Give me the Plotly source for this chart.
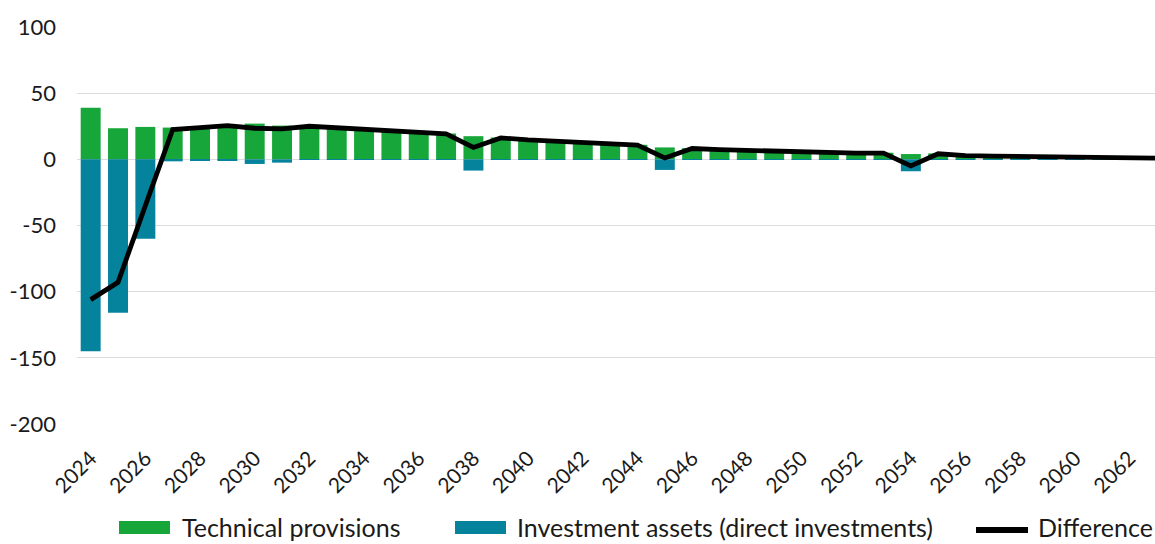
import plotly.graph_objects as go

years = list(range(2024, 2064))

technical_provisions = [
    39.0, 23.5, 24.5, 24.0, 24.5, 25.5, 27.0, 25.5, 25.0, 24.0,
    23.0, 22.0, 20.5, 19.5, 17.5, 16.5, 15.0, 14.0, 13.0, 12.0,
    11.0, 9.0, 8.5, 7.5, 7.0, 6.5, 6.0, 5.5, 5.0, 5.0,
    4.0, 4.5, 3.0, 2.6, 2.3, 2.0, 1.8, 1.5, 1.3, 1.0,
]

investment_assets = [
    -145.0, -116.0, -60.0, -1.5, -1.2, -1.0, -3.5, -2.5, -0.5, -0.2,
    -0.2, -0.2, -0.2, -0.2, -8.5, -0.3, -0.4, -0.4, -0.3, -0.3,
    -0.3, -8.0, -0.3, -0.2, -0.2, -0.2, -0.2, -0.2, -0.2, -0.3,
    -9.0, -0.3, -0.2, -0.2, -0.1, -0.1, -0.1, -0.1, -0.1, -0.1,
]

difference = [
    -106.0, -93.0, -35.0, 22.5, 24.0, 25.5, 23.5, 23.0, 25.0, 23.8,
    22.8, 21.8, 20.3, 19.3, 9.0, 16.2, 14.7, 13.7, 12.7, 11.7,
    10.7, 1.0, 8.2, 7.3, 6.7, 6.2, 5.7, 5.2, 4.7, 4.7,
    -5.0, 4.2, 2.8, 2.4, 2.2, 1.9, 1.7, 1.4, 1.2, 0.9,
]

y_tick_values = [100, 50, 0, -50, -100, -150, -200]
y_tick_labels = ["100", "50", "0", "-50", "-100", "-150", "-200"]
x_tick_values = list(range(2024, 2063, 2))

series_names = ["Technical provisions", "Investment assets (direct investments)", "Difference"]

GREEN = "#17a63a"
BLUE = "#05839c"
FONT = "Lato"

W, H = 1155, 544
L, R, T, B = 77, 0, 27, 120
PW, PH = W - L - R, H - T - B


def px(x):
    return (x - L) / PW


def py(y):
    return (H - B - y) / PH


fig = go.Figure()
fig.add_trace(go.Bar(x=years, y=technical_provisions, name=series_names[0],
                     marker=dict(color=GREEN, line=dict(width=0)), showlegend=False))
fig.add_trace(go.Bar(x=years, y=investment_assets, name=series_names[1],
                     marker=dict(color=BLUE, line=dict(width=0)), showlegend=False))
fig.add_trace(go.Scatter(x=years, y=difference, name=series_names[2], mode="lines",
                         line=dict(color="black", width=4.8), showlegend=False))

# manual legend (swatches + labels) below the plot
LEG_Y = 527
legend_items = [
    (119, 170, GREEN, "rect", series_names[0], 180),
    (455, 506, BLUE, "rect", series_names[1], 515),
    (976, 1028, "black", "line", series_names[2], 1036),
]
shapes = []
annotations = []
for x0, x1, col, kind, label, tx in legend_items:
    if kind == "rect":
        shapes.append(dict(type="rect", xref="paper", yref="paper",
                           x0=px(x0), x1=px(x1), y0=py(LEG_Y + 7), y1=py(LEG_Y - 6),
                           fillcolor=col, line=dict(width=0)))
    else:
        shapes.append(dict(type="line", xref="paper", yref="paper",
                           x0=px(x0), x1=px(x1), y0=py(LEG_Y + 3), y1=py(LEG_Y + 3),
                           line=dict(color=col, width=6)))
    annotations.append(dict(text=label, xref="paper", yref="paper",
                            x=px(tx), y=py(LEG_Y), xanchor="left", yanchor="middle",
                            showarrow=False, font=dict(size=25, family=FONT, color="#1a1a1a")))

fig.update_layout(
    width=W, height=H,
    margin=dict(l=L, r=R, t=T, b=B, autoexpand=False),
    paper_bgcolor="white", plot_bgcolor="white",
    barmode="relative", bargap=0.27,
    font=dict(family=FONT, size=20, color="#1a1a1a"),
    showlegend=False,
    shapes=shapes, annotations=annotations,
    xaxis=dict(range=[2023.5, 2062.93], tickmode="array",
               tickvals=x_tick_values, tickangle=-45,
               showgrid=False, showline=False, ticks="", zeroline=False,
               ticklabelstandoff=17, tickfont=dict(size=21)),
    yaxis=dict(range=[-200, 100], tickmode="array", tickvals=y_tick_values,
               ticktext=y_tick_labels, showgrid=True,
               gridcolor="#dcdcdc", gridwidth=1.3, zeroline=True,
               zerolinecolor="#dcdcdc", zerolinewidth=1.3, showline=False,
               ticks="", ticklabelstandoff=20, tickfont=dict(size=22)),
)

fig.write_html("out.html")
